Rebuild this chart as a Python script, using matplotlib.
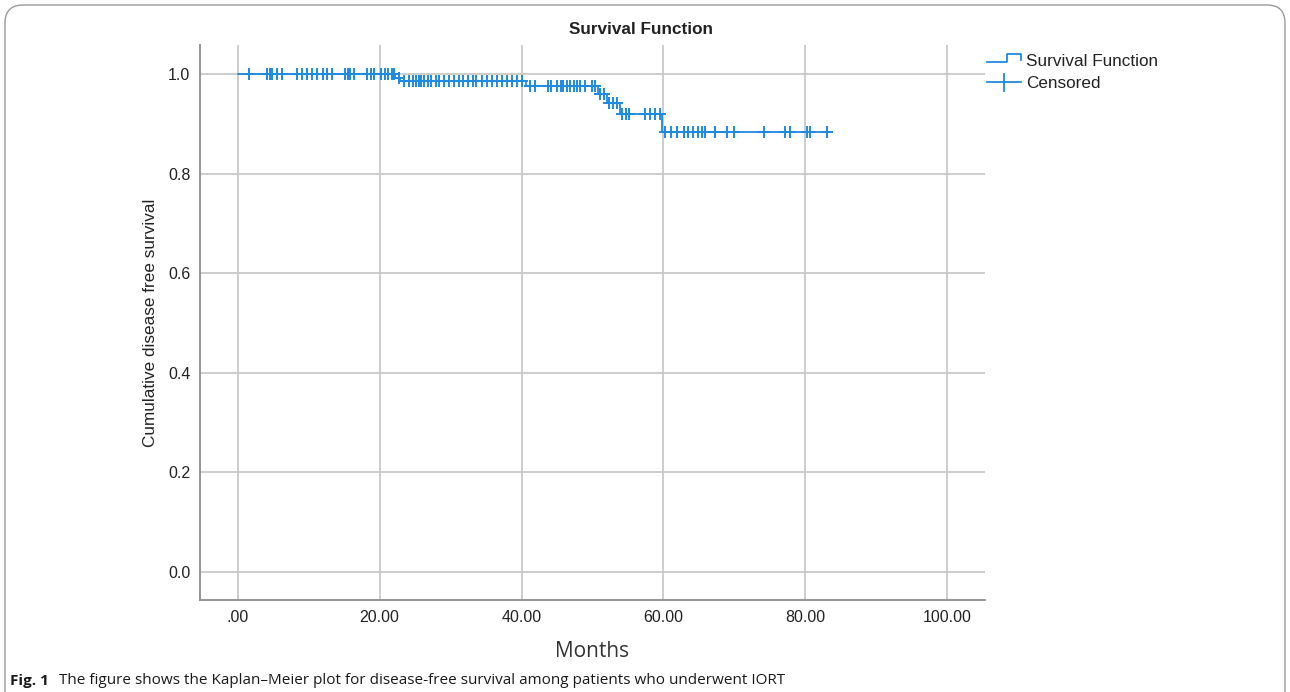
import numpy as np
import matplotlib
matplotlib.use("Agg")
import matplotlib.pyplot as plt
from matplotlib.lines import Line2D
from matplotlib.patches import FancyBboxPatch

# ---- data ----
step_times = [0.0, 22.2, 22.9, 40.7, 50.8, 52.1, 53.9, 59.8]
step_surv = [1.0, 0.992, 0.985, 0.976, 0.960, 0.941, 0.920, 0.883]
end_time = 83.3

censor_times = [
    1.6, 4.2, 4.6, 4.9, 5.5, 6.2, 8.3, 9.1, 9.8, 10.5, 11.2, 12.0, 12.6, 13.3,
    15.1, 15.5, 15.9, 16.4, 18.2, 18.8, 19.2, 20.2, 20.7, 21.2, 21.7, 22.0,
    22.8, 23.5, 24.2, 24.7, 25.1, 25.5, 25.9, 26.3, 26.8, 27.3, 28.0, 28.4,
    29.1, 29.8, 30.5, 31.2, 31.8, 32.4, 33.1, 33.6, 34.5, 35.2, 35.9, 36.6,
    37.3, 38.0, 38.7, 39.4, 40.1,
    41.2, 41.9, 43.7, 44.2, 45.0, 45.5, 45.9, 46.4, 46.9, 47.4, 47.8, 48.3,
    49.0, 49.9, 50.4,
    51.0, 51.6,
    52.3, 52.9, 53.5,
    54.2, 54.7, 55.2, 57.4, 58.1, 58.8, 59.5,
    60.2, 61.1, 61.9, 62.9, 63.5, 64.1, 64.9, 65.4, 65.8, 67.2, 68.9, 70.0,
    74.1, 77.1, 77.8, 80.2, 80.7, 83.0,
]

x_ticks = [0, 20, 40, 60, 80, 100]
x_ticklabels = [".00", "20.00", "40.00", "60.00", "80.00", "100.00"]
y_ticks = [0.0, 0.2, 0.4, 0.6, 0.8, 1.0]
y_ticklabels = ["0.0", "0.2", "0.4", "0.6", "0.8", "1.0"]

title = "Survival Function"
xlabel = "Months"
ylabel = "Cumulative disease free survival"
legend_labels = ["Survival Function", "Censored"]
caption_bold = "Fig. 1"
caption_text = "The figure shows the Kaplan\u2013Meier plot for disease-free survival among patients who underwent IORT"

# ---- styling ----
BLUE = "#1e8ae2"
GRID = "#c9c9c9"
SPINE = "#8c8c8c"
TXT = "#222222"
chart_font = "Liberation Sans"
cap_font = "Open Sans"

W, H = 1290, 692
fig = plt.figure(figsize=(W / 100, H / 100), dpi=100)

# outer rounded frame
frame = FancyBboxPatch((5 / W, -0.2), (W - 10) / W, 1.2 - 5 / H,
                       boxstyle="round,pad=0,rounding_size=0.014",
                       transform=fig.transFigure, fill=False,
                       edgecolor="#9a9a9a", linewidth=1.0, mutation_aspect=W / H)
fig.patches.append(frame)

ax = fig.add_axes([200 / W, 1 - 600 / H, (985 - 200) / W, (600 - 45) / H])

xs = list(step_times) + [end_time]
ys = list(step_surv) + [step_surv[-1]]
ax.step(xs, ys, where="post", color=BLUE, lw=1.3, zorder=3)

ct = np.array(censor_times)
idx = np.searchsorted(np.array(step_times), ct, side="right") - 1
cy = np.array(step_surv)[idx]
ax.plot(ct, cy, linestyle="none", marker="+", markersize=9, mew=1.4,
        color=BLUE, zorder=4)

ax.set_xlim(-5.3, 105.3)
ax.set_ylim(-0.056, 1.058)
ax.set_xticks(x_ticks)
ax.set_xticklabels(x_ticklabels)
ax.set_yticks(y_ticks)
ax.set_yticklabels(y_ticklabels)
ax.tick_params(length=0, labelsize=11.5, colors=TXT, pad=7)
for lab in ax.get_xticklabels() + ax.get_yticklabels():
    lab.set_fontfamily(chart_font)
ax.grid(True, color=GRID, lw=1.3, zorder=0)
ax.set_axisbelow(True)
for s in ["top", "right"]:
    ax.spines[s].set_visible(False)
for s in ["left", "bottom"]:
    ax.spines[s].set_color(SPINE)
    ax.spines[s].set_linewidth(1.3)

ax.set_ylabel(ylabel, fontfamily=chart_font, fontsize=12.3, color=TXT, labelpad=7)
ax.set_xlabel(xlabel, fontfamily=cap_font, fontsize=15, color="#333333", labelpad=12)

fig.text(641 / W, 1 - 29 / H, title, ha="center", va="center",
         fontfamily=chart_font, fontweight="bold", fontsize=12.3, color=TXT)

# legend (drawn manually to mimic SPSS glyphs)
def fx(p):
    return p / W

def fy(p):
    return 1 - p / H

fig.add_artist(Line2D([fx(987), fx(1007), fx(1007), fx(1021), fx(1021)],
                      [fy(62), fy(62), fy(53.5), fy(53.5), fy(60)],
                      transform=fig.transFigure, color=BLUE, lw=1.3))
fig.add_artist(Line2D([fx(987), fx(1021)], [fy(82), fy(82)],
                      transform=fig.transFigure, color=BLUE, lw=1.3))
fig.add_artist(Line2D([fx(1004), fx(1004)], [fy(74), fy(91)],
                      transform=fig.transFigure, color=BLUE, lw=1.3))
fig.text(fx(1026), fy(61), legend_labels[0], ha="left", va="center",
         fontfamily=chart_font, fontsize=12.3, color=TXT)
fig.text(fx(1026), fy(83), legend_labels[1], ha="left", va="center",
         fontfamily=chart_font, fontsize=12.3, color=TXT)

# caption
t1 = fig.text(fx(10), fy(681), caption_bold, ha="left", va="center",
              fontfamily=cap_font, fontweight="bold", fontsize=11, color="#1a1a1a")
fig.canvas.draw()
bb = t1.get_window_extent()
fig.text((bb.x1 + 10) / W, fy(681), caption_text, ha="left", va="center",
         fontfamily=cap_font, fontsize=11, color="#1a1a1a")

fig.savefig("out.png", dpi=100)
